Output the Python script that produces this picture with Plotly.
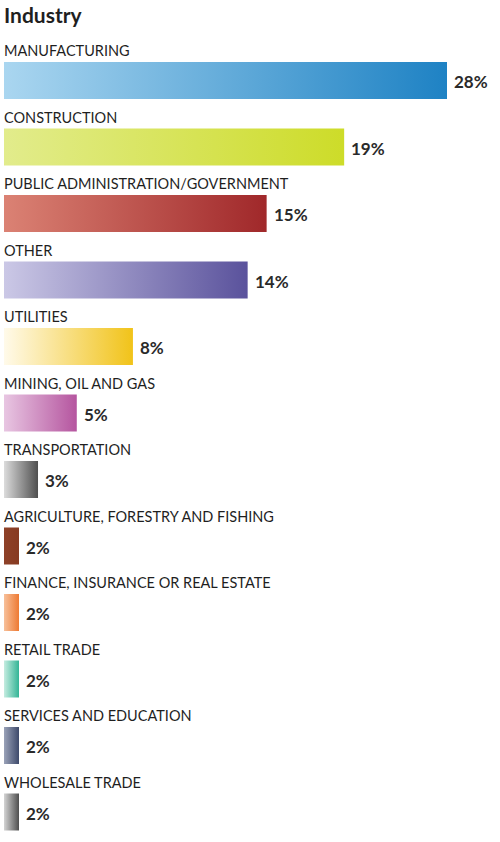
import plotly.graph_objects as go

title = "Industry"
categories = [
    "MANUFACTURING", "CONSTRUCTION", "PUBLIC ADMINISTRATION/GOVERNMENT", "OTHER",
    "UTILITIES", "MINING, OIL AND GAS", "TRANSPORTATION",
    "AGRICULTURE, FORESTRY AND FISHING", "FINANCE, INSURANCE OR REAL ESTATE",
    "RETAIL TRADE", "SERVICES AND EDUCATION", "WHOLESALE TRADE",
]
share_pct = [28, 19, 15, 14, 8, 5, 3, 2, 2, 2, 2, 2]
# bar lengths as drawn in the picture (percentage-point units of the axis)
bar_length = [28, 21.5, 16.6, 15.4, 8.15, 4.6, 2.15, 0.95, 0.95, 0.95, 0.95, 0.95]
color_start = ["#aad6f0", "#e2ec8c", "#db8274", "#cbc8e6", "#fffaea", "#e8c6e2",
               "#dcdcdc", "#8e4128", "#f7c09a", "#c5ece0", "#9aa2b8", "#d4d4d4"]
color_end = ["#1e82c4", "#cddc29", "#a0282a", "#5a529c", "#f1c319", "#b5559f",
             "#4f4f4f", "#873a21", "#ee7a33", "#33b596", "#3e4a6b", "#4f4f4f"]

W, H = 500, 842
PITCH = 66.5
HALF = 18.5 / PITCH
FONT = "Lato"

fig = go.Figure()
for i, (cat, pct, L, c0, c1) in enumerate(zip(categories, share_pct, bar_length, color_start, color_end)):
    fig.add_trace(go.Scatter(
        x=[0, L, L, 0, 0],
        y=[i - HALF, i - HALF, i + HALF, i + HALF, i - HALF],
        mode="lines", fill="toself",
        line=dict(width=0, color="rgba(0,0,0,0)"),
        fillgradient=dict(type="horizontal", colorscale=[[0, c0], [1, c1]]),
        hoverinfo="skip", showlegend=False,
    ))
    fig.add_annotation(x=0, y=i, text=cat, showarrow=False, xanchor="left", yanchor="middle",
                       xshift=-2, yshift=30, font=dict(family=FONT, size=14.5, color="#1f1f1f"))
    fig.add_annotation(x=L, y=i, text=f"<b>{pct}%</b>", showarrow=False, xanchor="left",
                       yanchor="middle", xshift=5, yshift=-1,
                       font=dict(family=FONT, size=17, color="#2a2a2a"))

y_top = -80.5 / PITCH
y_bot = y_top + H / PITCH
fig.update_layout(
    width=W, height=H, margin=dict(l=4, r=0, t=0, b=0),
    paper_bgcolor="white", plot_bgcolor="white",
    xaxis=dict(range=[0, 496 / (443 / 28)], visible=False, fixedrange=True),
    yaxis=dict(range=[y_bot, y_top], visible=False, fixedrange=True),
    title=dict(text=f"<b>{title}</b>", x=0, xref="paper", xanchor="left",
               y=1 - 16 / H, yref="container", yanchor="middle",
               font=dict(family=FONT, size=21, color="#1f1f1f")),
)
fig.write_html("out.html")
